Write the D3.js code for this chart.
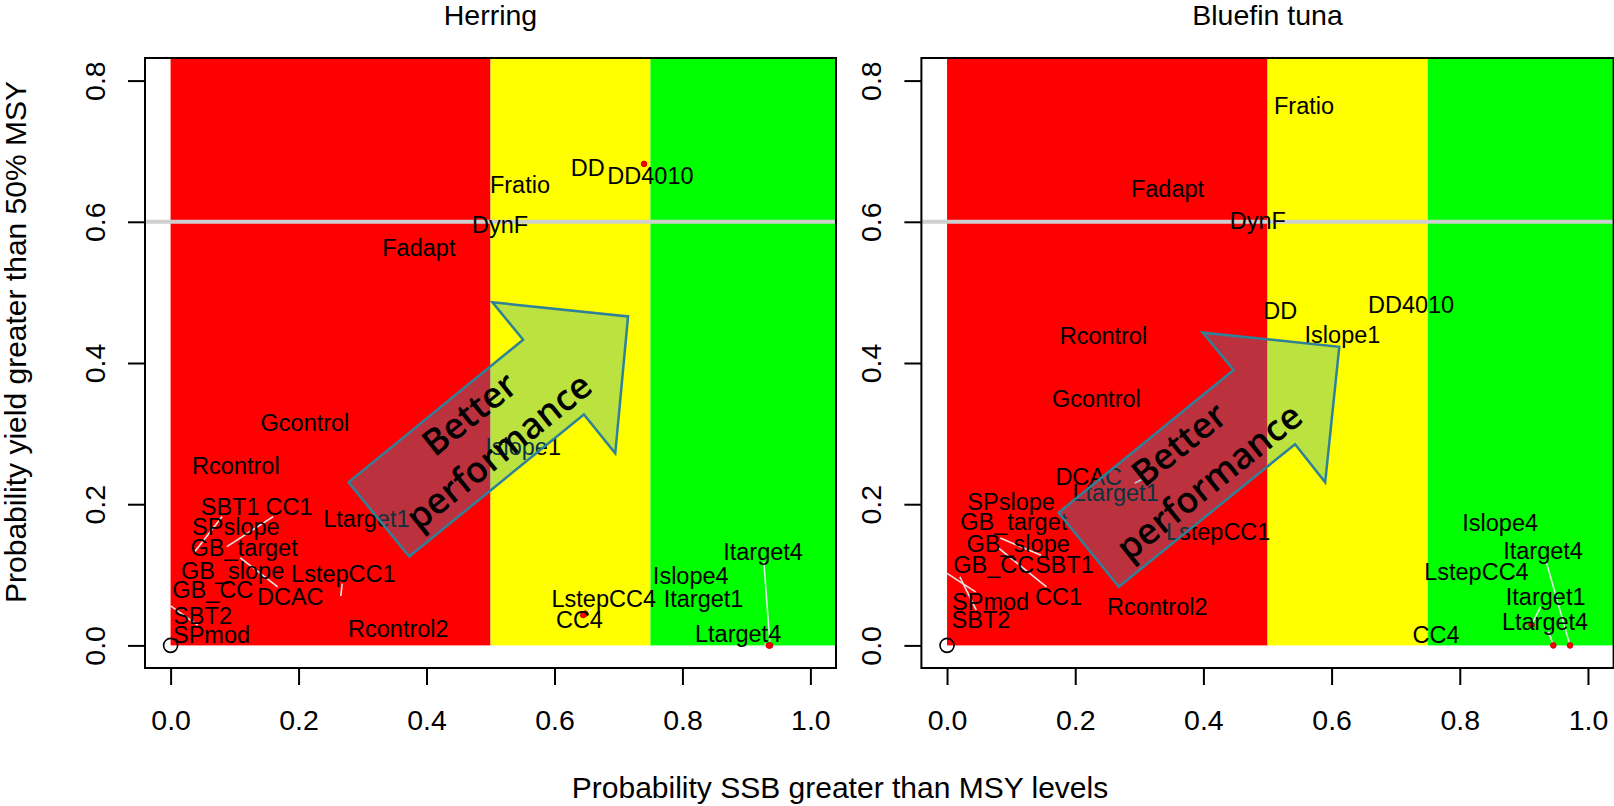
<!DOCTYPE html>
<html><head><meta charset="utf-8">
<script src="https://cdn.jsdelivr.net/npm/d3@7/dist/d3.min.js"></script>
<style>body{margin:0;background:#fff} svg{display:block}</style>
</head><body>
<svg id="chart" width="1614" height="806"></svg>
<script>
// ---------- data ----------
const xTicks = [0, 0.2, 0.4, 0.6, 0.8, 1.0];
const yTicks = [0, 0.2, 0.4, 0.6, 0.8];
const zoneBreaks = [0, 0.5, 0.75, 1.04];
const zoneColors = ["#ff0000", "#ffff00", "#00ff00"];
const referenceYield = 0.6;
const panelTitles = ["Herring", "Bluefin tuna"];
const xTitle = "Probability SSB greater than MSY levels";
const yTitle = "Probability yield greater than 50% MSY";
const arrowWords = ["Better", "performance"];

// Herring: point (SSB prob, yield prob) and label position
const herringNames = ["Fratio","DD","DD4010","DynF","Fadapt","Gcontrol","Rcontrol","Islope1","SBT1","CC1","SPslope","GB_target","GB_slope","GB_CC","DCAC","LstepCC1","Ltarget1","SBT2","SPmod","Rcontrol2","LstepCC4","CC4","Islope4","Itarget1","Itarget4","Ltarget4"];
const herringSSB   = [0.546,0.652,0.740,0.515,0.388,0.210,0.102,0.551,0.038,0.088,0.102,0.115,0.097,0.036,0.109,0.266,0.306,0.050,0.000,0.356,0.648,0.645,0.813,0.833,0.937,0.935];
const herringYield = [0.652,0.677,0.682,0.596,0.563,0.315,0.255,0.282,0.133,0.140,0.168,0.138,0.106,0.089,0.124,0.070,0.180,0.042,0.056,0.024,0.045,0.043,0.099,0.066,0.000,0.000];
const herringLabelSSB   = [0.546,0.652,0.750,0.515,0.388,0.210,0.102,0.551,0.093,0.185,0.102,0.115,0.097,0.066,0.187,0.270,0.306,0.050,0.064,0.356,0.677,0.639,0.813,0.833,0.926,0.887];
const herringLabelYield = [0.652,0.677,0.665,0.596,0.563,0.315,0.255,0.282,0.197,0.197,0.168,0.138,0.106,0.079,0.069,0.102,0.180,0.042,0.015,0.024,0.066,0.036,0.099,0.066,0.133,0.017];

// Bluefin tuna
const tunaNames = ["Fratio","Fadapt","DynF","DD","DD4010","Islope1","Rcontrol","Gcontrol","DCAC","Ltarget1","SPslope","GB_target","GB_slope","GB_CC","SBT1","CC1","SPmod","SBT2","Rcontrol2","LstepCC1","Islope4","Itarget4","LstepCC4","Itarget1","Ltarget4","CC4"];
const tunaSSB   = [0.557,0.344,0.485,0.520,0.724,0.617,0.244,0.233,0.221,0.304,0.057,0.104,0.111,0.073,0.083,0.080,0.000,0.020,0.328,0.423,0.863,0.972,0.826,0.912,0.946,0.763];
const tunaYield = [0.764,0.647,0.602,0.474,0.483,0.440,0.438,0.350,0.239,0.235,0.192,0.175,0.144,0.114,0.152,0.138,0.102,0.097,0.055,0.161,0.173,0.000,0.105,0.029,0.000,0.015];
const tunaLabelSSB   = [0.557,0.344,0.485,0.520,0.724,0.617,0.244,0.233,0.221,0.263,0.100,0.104,0.111,0.073,0.183,0.174,0.068,0.053,0.328,0.423,0.863,0.930,0.826,0.934,0.933,0.763];
const tunaLabelYield = [0.764,0.647,0.602,0.474,0.483,0.440,0.438,0.350,0.239,0.216,0.204,0.175,0.144,0.114,0.114,0.069,0.062,0.036,0.055,0.161,0.173,0.134,0.105,0.069,0.034,0.015];

// "Better performance" arrow outline (data units of each panel)
const herringArrowX = [0.278,0.373,0.646,0.695,0.715,0.503,0.551];
const herringArrowY = [0.231,0.126,0.327,0.272,0.466,0.486,0.433];
const tunaArrowX = [0.174,0.268,0.543,0.590,0.612,0.399,0.447];
const tunaArrowY = [0.188,0.083,0.285,0.231,0.423,0.443,0.390];
const herringArrowTextX = [0.467,0.513], herringArrowTextY = [0.328,0.275];
const tunaArrowTextX = [0.362,0.409], tunaArrowTextY = [0.285,0.232];
const arrowAngle = -38.8;

// ---------- drawing ----------
const svg = d3.select("#chart");
const FONT = "'Liberation Sans', Arial, sans-serif";
const yScale = d3.scaleLinear().domain([-0.032, 0.832]).range([668, 58]);

const panels = [
  {title: panelTitles[0], range: [145, 836], names: herringNames, px: herringSSB, py: herringYield, lx: herringLabelSSB, ly: herringLabelYield,
   ax: herringArrowX, ay: herringArrowY, tx: herringArrowTextX, ty: herringArrowTextY},
  {title: panelTitles[1], range: [921.4, 1613.6], names: tunaNames, px: tunaSSB, py: tunaYield, lx: tunaLabelSSB, ly: tunaLabelYield,
   ax: tunaArrowX, ay: tunaArrowY, tx: tunaArrowTextX, ty: tunaArrowTextY}
];

panels.forEach(p => {
  const x = d3.scaleLinear().domain([-0.04, 1.04]).range(p.range);
  const g = svg.append("g");

  // zones
  g.selectAll("rect.zone").data(zoneColors).join("rect").attr("class", "zone")
    .attr("x", (d, i) => x(zoneBreaks[i]))
    .attr("width", (d, i) => x(zoneBreaks[i + 1]) - x(zoneBreaks[i]))
    .attr("y", yScale(0.832)).attr("height", yScale(0) - yScale(0.832))
    .attr("fill", d => d);

  // reference line
  g.append("line").attr("x1", x(-0.04)).attr("x2", x(1.04))
    .attr("y1", yScale(referenceYield)).attr("y2", yScale(referenceYield))
    .attr("stroke", "#cfcfcf").attr("stroke-width", 4);

  // origin circle
  g.append("circle").attr("cx", x(0)).attr("cy", yScale(0)).attr("r", 7)
    .attr("fill", "none").attr("stroke", "#000").attr("stroke-width", 1.6);

  const gLines = g.append("g");
  const gPts = g.append("g");
  const gLabels = g.append("g");

  const items = p.names.map((n, i) => ({n, sx: p.px[i], px: x(p.px[i]), py: yScale(p.py[i]), lx: x(p.lx[i]), ly: yScale(p.ly[i])}));

  gLabels.selectAll("text").data(items).join("text")
    .attr("x", d => d.lx).attr("y", d => d.ly).attr("dy", "0.35em")
    .attr("text-anchor", "middle").attr("font-family", FONT).attr("font-size", 23.5)
    .attr("fill", "#000").text(d => d.n)
    .each(function(d) { d.bb = this.getBBox(); });

  items.forEach(d => {
    const dist = Math.hypot(d.lx - d.px, d.ly - d.py);
    // red point markers (only visible outside the red zone)
    if (dist > 3 && d.sx >= zoneBreaks[1]) {
      gPts.append("circle").attr("cx", d.px).attr("cy", d.py).attr("r", 2.8)
        .attr("fill", "#ff0000").attr("stroke", "#d00000").attr("stroke-width", 1);
    }
    if (dist > 14) {
      const b = d.bb, dx = d.lx - d.px, dy = d.ly - d.py;
      let t = 0;
      if (dx !== 0) t = Math.max(t, Math.min((b.x - d.px) / dx, (b.x + b.width - d.px) / dx));
      if (dy !== 0) t = Math.max(t, Math.min((b.y + 3 - d.py) / dy, (b.y + b.height - 3 - d.py) / dy));
      t = Math.min(t, 1);
      if (t > 0.02) {
        gLines.append("line").attr("x1", d.px).attr("y1", d.py)
          .attr("x2", d.px + t * dx).attr("y2", d.py + t * dy)
          .attr("stroke", "#e4e4e4").attr("stroke-width", 1.6);
      }
    }
  });

  // arrow
  const pts = p.ax.map((v, i) => [x(v), yScale(p.ay[i])]);
  g.append("path").attr("d", d3.line()(pts) + "Z")
    .attr("fill", "rgb(35,160,200)").attr("fill-opacity", 0.31)
    .attr("stroke", "#2e8199").attr("stroke-width", 2.5).attr("stroke-linejoin", "miter");
  arrowWords.forEach((w, i) => {
    const cx = x(p.tx[i]), cy = yScale(p.ty[i]);
    g.append("text").attr("x", cx).attr("y", cy).attr("dy", "0.35em")
      .attr("transform", `rotate(${arrowAngle},${cx},${cy})`)
      .attr("text-anchor", "middle").attr("font-family", "'Open Sans', Lato, sans-serif")
      .attr("font-weight", 600).attr("font-size", 36).attr("fill", "#000").text(w);
  });

  // box
  g.append("rect").attr("x", x(-0.04)).attr("y", yScale(0.832))
    .attr("width", x(1.04) - x(-0.04)).attr("height", yScale(-0.032) - yScale(0.832))
    .attr("fill", "none").attr("stroke", "#000").attr("stroke-width", 2);

  // axes
  const xa = g.append("g").attr("transform", `translate(0,${yScale(-0.032)})`)
    .call(d3.axisBottom(x).tickValues(xTicks).tickSize(17).tickPadding(25).tickFormat(d3.format(".1f")));
  const ya = g.append("g").attr("transform", `translate(${x(-0.04)},0)`)
    .call(d3.axisLeft(yScale).tickValues(yTicks).tickSize(17).tickFormat(d3.format(".1f")));
  [xa, ya].forEach(a => {
    a.select(".domain").remove();
    a.selectAll(".tick line").attr("stroke", "#000").attr("stroke-width", 2);
    a.selectAll(".tick text").attr("font-family", FONT).attr("font-size", 28.5).attr("fill", "#000");
  });
  ya.selectAll(".tick text").attr("transform", "rotate(-90)").attr("x", 0).attr("y", -40)
    .attr("dy", 0).attr("text-anchor", "middle");

  // title
  svg.append("text").attr("x", (x(-0.04) + x(1.04)) / 2).attr("y", 25)
    .attr("text-anchor", "middle").attr("font-family", FONT).attr("font-size", 28.5)
    .attr("fill", "#000").text(p.title);
});

svg.append("text").attr("x", 840).attr("y", 798).attr("text-anchor", "middle")
  .attr("font-family", FONT).attr("font-size", 30).attr("fill", "#000").text(xTitle);
svg.append("text").attr("transform", "translate(26,342) rotate(-90)").attr("text-anchor", "middle")
  .attr("font-family", FONT).attr("font-size", 30).attr("fill", "#000").text(yTitle);
</script>
</body></html>
